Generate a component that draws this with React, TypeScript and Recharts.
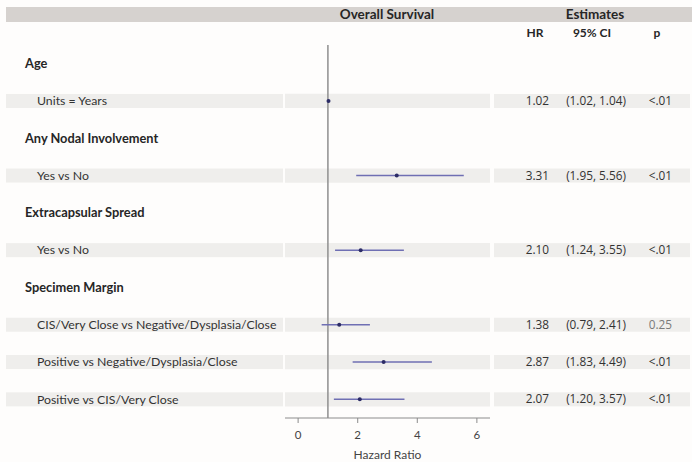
import React from 'react';
import {
  ComposedChart,
  Scatter,
  ErrorBar,
  XAxis,
  YAxis,
  ReferenceLine,
  ReferenceArea,
} from 'recharts';

// ---- data ----
const rowLabels = [
  'Age',
  'Units = Years',
  'Any Nodal Involvement',
  'Yes vs No',
  'Extracapsular Spread',
  'Yes vs No',
  'Specimen Margin',
  'CIS/Very Close vs Negative/Dysplasia/Close',
  'Positive vs Negative/Dysplasia/Close',
  'Positive vs CIS/Very Close',
];
const rowIsGroup = [true, false, true, false, true, false, true, false, false, false];
const hrValues: (number | null)[] = [null, 1.02, null, 3.31, null, 2.1, null, 1.38, 2.87, 2.07];
const ciLower: (number | null)[] = [null, 1.02, null, 1.95, null, 1.24, null, 0.79, 1.83, 1.2];
const ciUpper: (number | null)[] = [null, 1.04, null, 5.56, null, 3.55, null, 2.41, 4.49, 3.57];
const hrText = ['', '1.02', '', '3.31', '', '2.10', '', '1.38', '2.87', '2.07'];
const ciText = ['', '(1.02, 1.04)', '', '(1.95, 5.56)', '', '(1.24, 3.55)', '', '(0.79, 2.41)', '(1.83, 4.49)', '(1.20, 3.57)'];
const pText = ['', '<.01', '', '<.01', '', '<.01', '', '0.25', '<.01', '<.01'];
const xTicks = [0, 2, 4, 6];
const xDomain = [-0.44, 6.44];

const rowIndex = rowLabels.map((_, i) => i);
const points = rowIndex
  .filter((i) => hrValues[i] !== null)
  .map((i) => ({
    row: i,
    hr: hrValues[i] as number,
    err: [(hrValues[i] as number) - (ciLower[i] as number), (ciUpper[i] as number) - (hrValues[i] as number)],
  }));

const STRIPE = '#efeeec';
const LABEL_FONT = 'Lato, "Open Sans", sans-serif';
const NUM_FONT = '"Open Sans", "DejaVu Sans", sans-serif';

const LeftTick = (props: any) => {
  const { y, payload } = props;
  const i = payload.value as number;
  if (i < 0 || i >= rowLabels.length) return null;
  if (rowIsGroup[i]) {
    return (
      <text x={25} y={y} dy="0.35em" fontFamily={LABEL_FONT} fontSize={12.8} fontWeight={700} fill="#262626">
        {rowLabels[i]}
      </text>
    );
  }
  return (
    <g>
      <rect x={6} y={y - 7} width={277} height={14} fill={STRIPE} />
      <text x={37} y={y} dy="0.35em" fontFamily={LABEL_FONT} fontSize={12.3} fill="#333">
        {rowLabels[i]}
      </text>
    </g>
  );
};

const RightTick = (props: any) => {
  const { y, payload } = props;
  const i = payload.value as number;
  if (i < 0 || i >= rowLabels.length || rowIsGroup[i]) return null;
  return (
    <g fontFamily={NUM_FONT} fontSize={11.8}>
      <rect x={494} y={y - 7} width={196} height={14} fill={STRIPE} />
      <text x={549} y={y} dy="0.35em" textAnchor="end" fill="#333">
        {hrText[i]}
      </text>
      <text x={596} y={y} dy="0.35em" textAnchor="middle" fill="#333">
        {ciText[i]}
      </text>
      <text x={672} y={y} dy="0.35em" textAnchor="end" fill={pText[i] === '0.25' ? '#7a7a7a' : '#333'}>
        {pText[i]}
      </text>
    </g>
  );
};

const Dot = (props: any) => {
  const { cx, cy } = props;
  return <circle cx={cx} cy={cy} r={2} fill="#2c2c66" />;
};

export default function App() {
  return (
    <div style={{ position: 'absolute', left: 0, top: 0, width: 692, height: 462, background: '#fefdfc' }}>
      <ComposedChart width={692} height={462} margin={{ top: 45, right: 0, bottom: 0, left: 0 }}>
        <XAxis
          type="number"
          dataKey="hr"
          domain={xDomain}
          ticks={xTicks}
          allowDataOverflow
          height={44}
          axisLine={{ stroke: '#8c8c8c' }}
          tickLine={{ stroke: '#8c8c8c' }}
          tickSize={5}
          tickMargin={8}
          tick={{ fill: '#444', fontSize: 11.5, fontFamily: LABEL_FONT }}
          label={{ value: 'Hazard Ratio', position: 'insideBottom', offset: 3, fill: '#444', fontSize: 12, fontFamily: LABEL_FONT }}
        />
        <YAxis
          yAxisId="left"
          type="number"
          dataKey="row"
          domain={[-0.5, 9.5]}
          ticks={rowIndex}
          reversed
          allowDataOverflow
          width={285}
          axisLine={false}
          tickLine={false}
          tick={<LeftTick />}
          interval={0}
        />
        <YAxis
          yAxisId="right"
          orientation="right"
          type="number"
          domain={[-0.5, 9.5]}
          ticks={rowIndex}
          reversed
          allowDataOverflow
          width={202}
          axisLine={false}
          tickLine={false}
          tick={<RightTick />}
          interval={0}
        />
        {rowIndex
          .filter((i) => !rowIsGroup[i])
          .map((i) => (
            <ReferenceArea
              key={i}
              yAxisId="left"
              x1={xDomain[0]}
              x2={xDomain[1]}
              y1={i - 0.19}
              y2={i + 0.19}
              fill={STRIPE}
              fillOpacity={1}
              stroke="none"
            />
          ))}
        <ReferenceLine yAxisId="left" x={1} stroke="#8f8f8f" strokeWidth={1.5} />
        <Scatter yAxisId="left" data={points} dataKey="row" shape={<Dot />} isAnimationActive={false}>
          <ErrorBar dataKey="err" direction="x" width={0} stroke="#6f6fb3" strokeWidth={1.5} isAnimationActive={false} />
        </Scatter>
      </ComposedChart>
      <div
        style={{
          position: 'absolute',
          left: 6,
          top: 7,
          width: 686,
          height: 15,
          background: '#d6d2cf',
        }}
      />
      <div
        style={{
          position: 'absolute',
          left: 287,
          top: 7,
          width: 200,
          height: 15,
          lineHeight: '15px',
          textAlign: 'center',
          fontFamily: LABEL_FONT,
          fontWeight: 700,
          fontSize: 13.5,
          color: '#262626',
        }}
      >
        Overall Survival
      </div>
      <div
        style={{
          position: 'absolute',
          left: 545,
          top: 7,
          width: 100,
          height: 15,
          lineHeight: '15px',
          textAlign: 'center',
          fontFamily: LABEL_FONT,
          fontWeight: 700,
          fontSize: 13.5,
          color: '#262626',
        }}
      >
        Estimates
      </div>
      {[
        { t: 'HR', c: 535 },
        { t: '95% CI', c: 592 },
        { t: 'p', c: 657 },
      ].map((h) => (
        <div
          key={h.t}
          style={{
            position: 'absolute',
            left: h.c - 30,
            top: 25,
            width: 60,
            height: 15,
            lineHeight: '15px',
            textAlign: 'center',
            fontFamily: LABEL_FONT,
            fontWeight: 700,
            fontSize: 12,
            color: '#262626',
          }}
        >
          {h.t}
        </div>
      ))}
    </div>
  );
}
